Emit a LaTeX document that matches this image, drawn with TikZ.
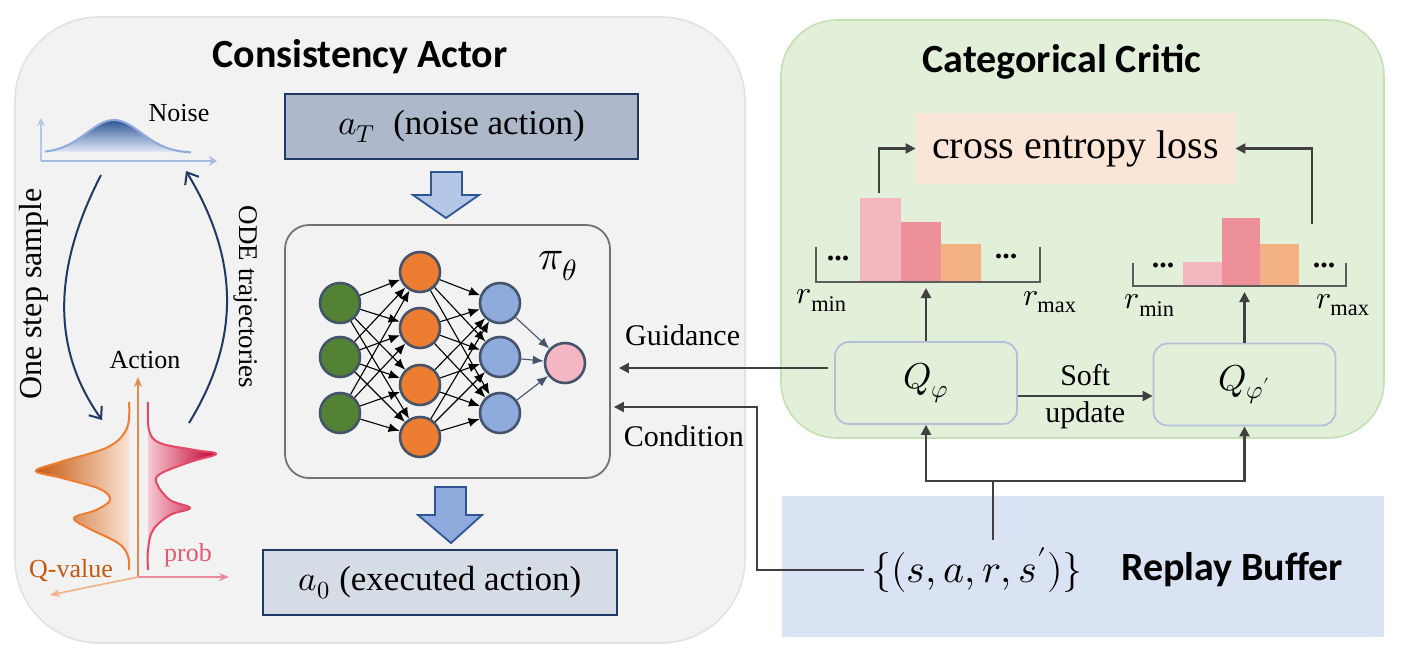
\documentclass[tikz,border=0pt]{standalone}
\usepackage{fontspec}
\usepackage{unicode-math}
\setmainfont{Liberation Serif}
\newfontfamily\headfont{Carlito}
\usepackage{xcolor}
\definecolor{actorbg}{HTML}{F2F2F2}
\definecolor{actoredge}{HTML}{E2E2E2}
\definecolor{criticbg}{HTML}{E2F0D9}
\definecolor{criticedge}{HTML}{C5E0B4}
\definecolor{bufferbg}{HTML}{DAE3F3}
\definecolor{lossbg}{HTML}{FBE5D6}
\definecolor{navy}{HTML}{1F3864}
\definecolor{noisebox}{HTML}{ADB9CA}
\definecolor{execbox}{HTML}{D6DCE5}
\definecolor{blocka}{HTML}{B4C7E7}
\definecolor{blockb}{HTML}{8FAADC}
\definecolor{blockedge}{HTML}{2F5597}
\definecolor{nngray}{HTML}{767171}
\definecolor{nngreen}{HTML}{548235}
\definecolor{nnorange}{HTML}{ED7D31}
\definecolor{nnblue}{HTML}{8FAADC}
\definecolor{nnpink}{HTML}{F4B6C2}
\definecolor{nnedge}{HTML}{44546A}
\definecolor{barpink}{HTML}{F4B6BF}
\definecolor{barrose}{HTML}{EE909A}
\definecolor{barpeach}{HTML}{F4B183}
\definecolor{linkgray}{HTML}{404040}
\definecolor{qedge}{HTML}{B4C0DA}
\definecolor{noisedark}{HTML}{2F5597}
\definecolor{noiselight}{HTML}{E4EBF7}
\definecolor{noiseline}{HTML}{8FAADC}
\definecolor{noiseaxis}{HTML}{B4C7E7}
\definecolor{qline}{HTML}{ED7D31}
\definecolor{qdark}{HTML}{C55A11}
\definecolor{qlight}{HTML}{FCE4D6}
\definecolor{pline}{HTML}{E04A65}
\definecolor{plight}{HTML}{F8CBD3}
\definecolor{pdark}{HTML}{C00030}
\definecolor{qtext}{HTML}{C65911}
\definecolor{ptext}{HTML}{E05A73}
\definecolor{actaxis}{HTML}{D98C55}
\usepackage{tikz}
\usetikzlibrary{arrows.meta,positioning,calc}
\newcommand{\fsize}[1]{\fontsize{#1}{#1}\selectfont}
\tikzset{
  >={Triangle[length=5pt,width=5pt]},
  title/.style  ={font=\headfont\bfseries\fsize{20},inner sep=1pt},
  lbl/.style    ={font=\fsize{15},inner sep=1pt},
  smlbl/.style  ={font=\fsize{13},inner sep=1pt},
  abox/.style   ={draw=navy,line width=0.8pt,minimum width=176.5pt,
                  minimum height=32.5pt,font=\fsize{17.5}},
  neuron/.style ={circle,draw=nnedge,line width=1.3pt,minimum size=20pt,inner sep=0pt},
  nnlink/.style ={-{Latex[length=5.5pt,width=4.5pt]},draw=black,line width=0.55pt},
  nnout/.style  ={-{Latex[length=5.5pt,width=4.5pt]},draw=nnedge,line width=0.55pt},
  qbox/.style   ={draw=qedge,fill=criticbg,rounded corners=7pt,line width=0.9pt,
                  minimum width=91pt,minimum height=41pt,font=\fsize{18}},
  link/.style   ={->,draw=linkgray,line width=1.1pt},
  plain/.style  ={draw=linkgray,line width=1.1pt},
  histaxis/.style={draw=linkgray!85,line width=1.1pt},
  dots/.style   ={font=\bfseries\fsize{15},inner sep=0pt},
  rlbl/.style   ={font=\fsize{16},inner sep=0pt},
  block/.style  ={draw=blockedge,line width=0.9pt,line join=miter},
  swoop/.style  ={-{Straight Barb[length=5pt,width=8pt]},draw=navy,line width=1pt},
}

\begin{document}
\begin{tikzpicture}[x=0.5pt,y=-0.5pt]
\useasboundingbox (0,0) rectangle (1402,665);
% panels
\draw[fill=actorbg,draw=actoredge,line width=0.8pt,rounded corners=42pt] (15,17) rectangle (745,643);
\draw[fill=criticbg,draw=criticedge,line width=0.8pt,rounded corners=28pt] (781,20) rectangle (1384,438);
\fill[bufferbg] (782,496) rectangle (1384,637);
\node[title] (acttitle) at (360,57) {Consistency Actor};
\node[title] (crittitle) at (1062,62) {Categorical Critic};

% noise
\draw[-{Stealth[length=4pt,width=4pt]},draw=noiseaxis,line width=0.8pt] (41,161) -- (41,118);
\draw[-{Stealth[length=4pt,width=5pt]},draw=noiseline!80,line width=0.8pt] (41,161) -- (217,161);
\shade[top color=noisedark,bottom color=noiselight]
  plot[domain=45:191,samples=60] (\x,{153-33*exp(-(\x-114)*(\x-114)/1500)}) -- cycle;
\draw[draw=noiseline,line width=1pt]
  plot[domain=45:191,samples=60] (\x,{153-33*exp(-(\x-114)*(\x-114)/1500)});
\node[smlbl] (noise) at (179,113) {Noise};

% action distributions
\shade[left color=qdark,right color=qlight]
  plot[smooth,tension=0.6] coordinates {(129,402) (127,428) (108,447) (60,462) (36,471) (62,478)
  (100,489) (110,500) (96,510) (74,518) (88,528) (118,543) (128,556) (129,570)} -- cycle;
\draw[draw=qline,line width=1pt]
  plot[smooth,tension=0.6] coordinates {(129,402) (127,428) (108,447) (60,462) (36,471) (62,478)
  (100,489) (110,500) (96,510) (74,518) (88,528) (118,543) (128,556) (129,570)};
\shade[left color=plight,right color=pdark]
  plot[smooth,tension=0.6] coordinates {(148,402) (149,430) (160,443) (195,450) (216,454) (190,462)
  (160,474) (157,484) (170,500) (190,508) (170,515) (153,530) (148,550) (148,570)} -- cycle;
\draw[draw=pline,line width=1pt]
  plot[smooth,tension=0.6] coordinates {(148,402) (149,430) (160,443) (195,450) (216,454) (190,462)
  (160,474) (157,484) (170,500) (190,508) (170,515) (153,530) (148,550) (148,570)};
\coordinate (origin) at (138,577);
\draw[-{Stealth[length=5pt,width=4pt]},draw=actaxis,line width=0.8pt] (origin) -- (138,377);
\draw[-{Stealth[length=5pt,width=4pt]},draw=barpeach,line width=0.8pt] (origin) -- (50,595);
\draw[-{Stealth[length=5pt,width=4pt]},draw=ptext!70,line width=0.8pt] (origin) -- (229,577);
\node[smlbl] (action) at (145,360) {Action};
\node[smlbl,text=qtext] (qvalue) at (71,571) {Q-value};
\node[smlbl,text=ptext] (prob) at (188,555) {prob};

% sampling arrows
\draw[swoop] (101,175) .. controls (52,270) and (52,350) .. (102,420);
\draw[swoop] (189,423) .. controls (240,340) and (240,260) .. (186,171);
\node[rotate=90,font=\fsize{16},inner sep=0pt] (onestep) at (34,294) {One step sample};
\node[rotate=-90,font=\fsize{13.5},inner sep=0pt] (ode) at (246,297) {ODE trajectories};

% actor
\node[abox,fill=noisebox] (aT) at (461.5,126.5) {$a_T$\enspace(noise action)};
\filldraw[block,fill=blocka] (431,172) -- (462,172) -- (462,195) -- (479,195) -- (446,218)
  -- (413,195) -- (431,195) -- cycle;
\node[draw=nngray,fill=actorbg,rounded corners=12pt,line width=0.9pt,minimum width=162.5pt,
  minimum height=126.5pt] (nn) at (447.5,351.5) {};
\filldraw[block,fill=blockb] (435,487) -- (466,487) -- (466,515) -- (482,515) -- (451,543)
  -- (418,515) -- (435,515) -- cycle;
\node[abox,fill=execbox,minimum width=177pt] (a0) at (440,582.5) {$a_0$ (executed action)};

% network
\node[neuron,fill=nngreen] (g1) at (340,303) {};
\node[neuron,fill=nngreen] (g2) at (340,357) {};
\node[neuron,fill=nngreen] (g3) at (340,413) {};
\node[neuron,fill=nnorange] (o1) at (420,272) {};
\node[neuron,fill=nnorange] (o2) at (420,328) {};
\node[neuron,fill=nnorange] (o3) at (420,385) {};
\node[neuron,fill=nnorange] (o4) at (420,437) {};
\node[neuron,fill=nnblue] (b1) at (500,303) {};
\node[neuron,fill=nnblue] (b2) at (500,357) {};
\node[neuron,fill=nnblue] (b3) at (500,413) {};
\node[neuron,fill=nnpink] (p) at (565,363) {};
\foreach \i in {1,2,3}
  \foreach \j in {1,...,4} {
    \draw[nnlink] (g\i) -- (o\j);
    \draw[nnlink] (o\j) -- (b\i);
  }
\foreach \i in {1,2,3}
  \draw[nnout] (b\i) -- (p);
\node[font=\fsize{21},inner sep=0pt] (pi) at (558,266) {$\pi_\theta$};

% critic
\node[fill=lossbg,minimum width=159.5pt,minimum height=35.5pt,font=\fsize{20}] (loss)
  at (1075.5,148.5) {cross entropy loss};
\node[qbox] (qa) at (926,383) {$Q_\varphi$};
\node[qbox] (qb) at (1244.5,384.5) {$Q_{\varphi'}$};

% histograms
\fill[barpink] (860,282) rectangle (901,198);
\fill[barrose] (901,282) rectangle (941,222);
\fill[barpeach] (941,282) rectangle (981,244);
\draw[histaxis] (816,247) |- (1040,282) -- (1040,247);
\node[dots] (dla) at (838,258) {...};
\node[dots] (dra) at (1006,256) {...};
\node[rlbl] (rmina) at (822,300) {$r_{\min}$};
\node[rlbl] (rmaxa) at (1050,302) {$r_{\max}$};
\fill[barpink] (1183,286) rectangle (1222,262);
\fill[barrose] (1222,286) rectangle (1260,218);
\fill[barpeach] (1260,286) rectangle (1299,244);
\draw[histaxis] (1133,263) |- (1346,286) -- (1346,263);
\node[dots] (dlb) at (1163,265) {...};
\node[dots] (drb) at (1324,265) {...};
\node[rlbl] (rminb) at (1150,305) {$r_{\min}$};
\node[rlbl] (rmaxb) at (1343,305) {$r_{\max}$};
\coordinate (hista) at (926,288);
\coordinate (histb) at (1244.5,292);
\draw[link] (qa.north) -- (hista);
\draw[link] (qb.north) -- (histb);
\coordinate (lossa) at (879,193);
\coordinate (lossb) at (1312,224);
\draw[link] (lossa) |- (loss.west);
\draw[link] (lossb) |- (loss.east);
\coordinate (softa) at ([yshift=-6.5pt]qa.east);
\draw[link] (softa) -- node[lbl,above=3.5pt]{Soft} node[lbl,below=1.5pt]{update} (softa -| qb.west);

% replay buffer
\node[font=\fsize{20}] (trans) at (977,570) {$\{(s,a,r,s')\}$};
\node[title] (buftitle) at (1232,570) {Replay Buffer};
\coordinate (bufsplit) at (993,481);
\draw[plain] (trans.north -| bufsplit) -- (bufsplit);
\draw[link] (bufsplit) -| (qa.south);
\draw[link] (bufsplit) -| (qb.south);

% guidance and condition
\coordinate (guid) at ([xshift=-3pt,yshift=7.5pt]qa.west);
\draw[link,shorten >=4pt] (guid) -- node[lbl,above=9.5pt,pos=0.67]{Guidance} (guid -| nn.east);
\coordinate (condbend) at (757,407);
\draw[link,shorten >=1.5pt] (trans.west) -| (condbend)
  -- node[lbl,below=8pt]{Condition} (condbend -| nn.east);
\end{tikzpicture}
\end{document}
